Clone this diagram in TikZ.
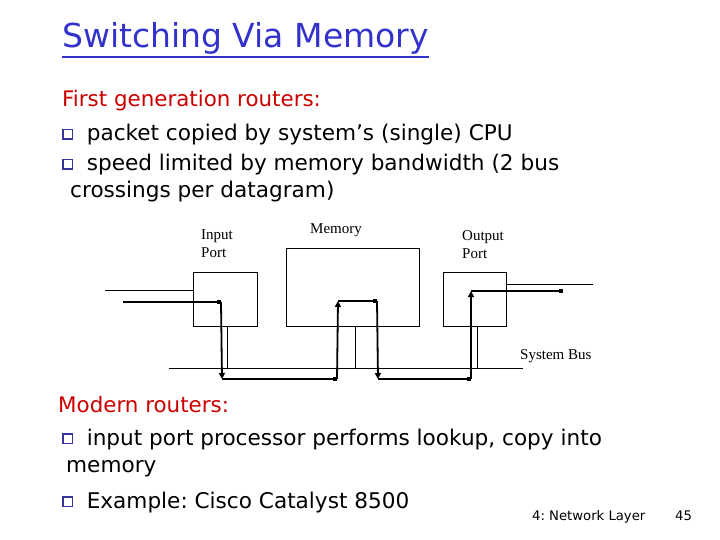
\documentclass[tikz,border=0pt]{standalone}
\usepackage{fontspec}
\setmainfont{DejaVu Sans}
\newfontfamily\figfont{Liberation Serif}
\usetikzlibrary{arrows.meta,positioning}
\frenchspacing

\begin{document}
\begin{tikzpicture}[x=1pt,y=-1pt]

	% ============================================================
	% COLORS
	% ============================================================
	\definecolor{titleBlue}{HTML}{3333CC}
	\definecolor{headRed}{HTML}{CC0000}
	\definecolor{bulletBlue}{HTML}{333399}
	\definecolor{ink}{HTML}{000000}

	% ============================================================
	% STYLES
	% ============================================================
	\tikzset{
		unit/.style={draw=ink, line width=0.9pt, inner sep=0pt},
		figlbl/.style={font=\figfont\fontsize{15}{18}\selectfont, text=ink, align=left, inner sep=0pt},
		thinwire/.style={draw=ink, line width=0.9pt},
		pathDot/.style={draw=ink, line width=2.6pt, -{Square[length=4.5pt,width=4.5pt]}},
		pathTip/.style={draw=ink, line width=1.8pt, -{Triangle[length=6pt,width=6pt]}},
		title/.style={font=\fontsize{33}{40}\selectfont, text=titleBlue, inner sep=0pt, anchor=base west},
		head/.style={font=\fontsize{21.4}{26}\selectfont, text=headRed, inner sep=0pt, anchor=base west},
		body/.style={font=\fontsize{21.6}{26}\selectfont, text=ink, inner sep=0pt, anchor=base west},
		foot/.style={font=\fontsize{13.2}{16}\selectfont, text=ink, inner sep=0pt, anchor=base west}
	}
	\newcommand\sqbul{\raisebox{2.5pt}{\color{bulletBlue}\setlength\fboxsep{0pt}\setlength\fboxrule{1.3pt}\fbox{\rule{0pt}{8pt}\hspace{8pt}}}\hspace{14pt}}

	\useasboundingbox (0,0) rectangle (720,540);

	% ============================================================
	% TEXT
	% ============================================================
	\node[title] (ttl) at (62,48) {Switching Via Memory};
	\draw[titleBlue, line width=2pt] ([yshift=-9pt]ttl.base west) -- ([yshift=-9pt]ttl.base east);

	\node[head] (first) at (62,107) {First generation routers:};
	\node[body] (b1) at (62,141) {\sqbul packet copied by system’s (single) CPU};
	\node[body] (b2) at (62,171) {\sqbul speed limited by memory bandwidth (2 bus};
	\node[body] (b2b) at (70,198) {crossings per datagram)};

	\node[head] (modern) at (58,412) {Modern routers:};
	\node[body] (b3) at (62,445) {\sqbul input port processor performs lookup, copy into};
	\node[body] (b3b) at (66,472) {memory};
	\node[body] (b4) at (62,508) {\sqbul Example: Cisco Catalyst 8500};

	\node[foot] (chap) at (532,520) {4: Network Layer};
	\node[foot] (pg) at (675,520) {45};

	% ============================================================
	% UNITS
	% ============================================================
	\node[unit, minimum width=64pt, minimum height=54pt] (input)  at (225,299) {};
	\node[unit, minimum width=133pt, minimum height=78pt] (memory) at (352.5,287) {};
	\node[unit, minimum width=63pt, minimum height=54pt] (output) at (474.5,299) {};

	\node[figlbl, anchor=north west] (inLbl)  at (201,229) {Input\\Port};
	\node[figlbl, anchor=north west] (memLbl) at (310,223) {Memory};
	\node[figlbl, anchor=north west] (outLbl) at (462,230) {Output\\Port};
	\node[figlbl, anchor=north west] (busLbl) at (520,349) {System Bus};

	% ============================================================
	% BUS AND LINKS
	% ============================================================
	\coordinate (busW) at (169,368);
	\coordinate (busE) at (523,368);
	\coordinate (linkIn) at (105,290);
	\coordinate (linkOut) at (593,284);

	\draw[thinwire] (busW) -- (busE);
	\draw[thinwire] (linkIn) -- (linkIn -| input.west);
	\draw[thinwire] (output.east |- linkOut) -- (linkOut);
	\draw[thinwire] ([xshift=2pt]input.south) -- ([xshift=2pt]input.south |- busW);
	\draw[thinwire] ([xshift=3pt]memory.south) -- ([xshift=3pt]memory.south |- busW);
	\draw[thinwire] ([xshift=3pt]output.south) -- ([xshift=3pt]output.south |- busW);

	% ============================================================
	% PACKET PATH
	% ============================================================
	\coordinate (p0) at (123,302);
	\coordinate (p1) at (221,302);
	\coordinate (p2) at (222,379);
	\coordinate (p3) at (337,379);
	\coordinate (p4) at (338,301);
	\coordinate (p5) at (377,301);
	\coordinate (p6) at (378,379);
	\coordinate (p7) at (471,379);
	\coordinate (p8) at (471,291);
	\coordinate (p9) at (563,291);

	\draw[pathDot] (p0) -- (p1);
	\draw[pathTip] (p1) -- (p2);
	\draw[pathDot] (p2) -- (p3);
	\draw[pathTip] (p3) -- (p4);
	\draw[pathDot] (p4) -- (p5);
	\draw[pathTip] (p5) -- (p6);
	\draw[pathDot] (p6) -- (p7);
	\draw[pathTip] (p7) -- (p8);
	\draw[pathDot] (p8) -- (p9);

\end{tikzpicture}
\end{document}
